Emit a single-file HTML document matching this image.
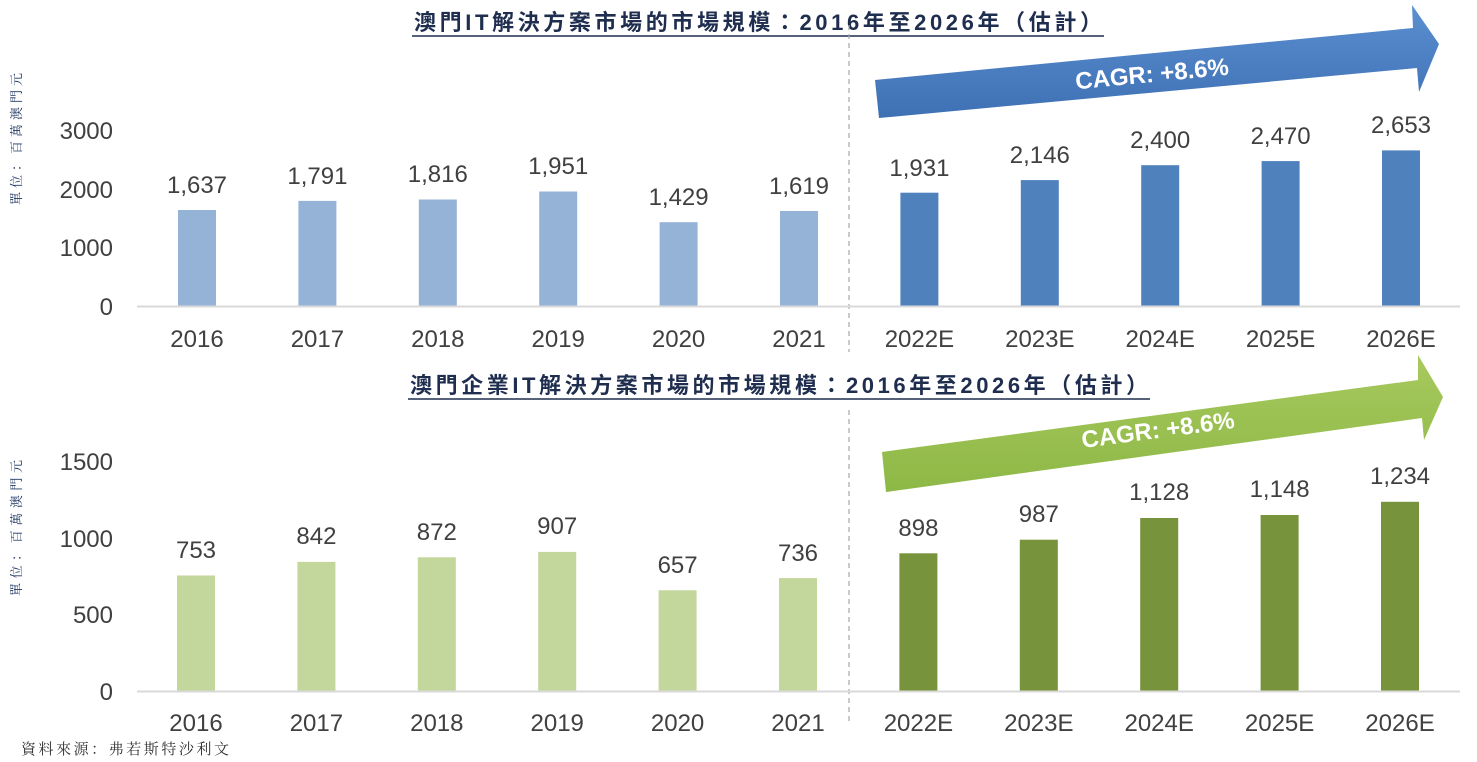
<!DOCTYPE html>
<html><head><meta charset="utf-8"><style>
html,body{margin:0;padding:0;background:#fff;}
svg{display:block;}
text{font-family:"Liberation Sans","Noto Sans CJK TC",sans-serif;}
.t{font-family:"Liberation Sans","Noto Sans CJK TC",sans-serif;font-weight:bold;fill:#1F2D4E;font-size:22px;}
.v{font-size:24px;fill:#404040;text-anchor:middle;}
.y{font-size:24px;fill:#404040;text-anchor:end;}
.c{font-size:24px;fill:#404040;text-anchor:middle;}
.u{font-family:"Liberation Serif","Noto Serif CJK SC",serif;font-size:13px;fill:#1F3864;}
</style></head><body>
<svg width="1477" height="762" viewBox="0 0 1477 762" xmlns="http://www.w3.org/2000/svg">
<defs>
<linearGradient id="gb" x1="0" y1="0" x2="0" y2="1"><stop offset="0" stop-color="#5B8FD0"/><stop offset="1" stop-color="#3E70B4"/></linearGradient>
<linearGradient id="gg" x1="0" y1="0" x2="0" y2="1"><stop offset="0" stop-color="#A8C95E"/><stop offset="1" stop-color="#8DB846"/></linearGradient>
</defs>
<!-- titles -->
<text class="t" x="414" y="30" textLength="688" lengthAdjust="spacing">澳門IT解決方案市場的市場規模：2016年至2026年（估計）</text>
<line x1="412" y1="36" x2="1104" y2="36" stroke="#1F2D4E" stroke-width="1.5"/>
<text class="t" x="410" y="393" textLength="738" lengthAdjust="spacing">澳門企業IT解決方案市場的市場規模：2016年至2026年（估計）</text>
<line x1="408" y1="399" x2="1150" y2="399" stroke="#1F2D4E" stroke-width="1.5"/>
<!-- dashed dividers -->
<line x1="849" y1="25" x2="849" y2="352" stroke="#A6A6A6" stroke-width="1.2" stroke-dasharray="5,4"/>
<line x1="849" y1="410" x2="849" y2="722" stroke="#A6A6A6" stroke-width="1.2" stroke-dasharray="5,4"/>
<!-- arrows -->
<polygon points="875,80 1413,28 1412,5 1439,44 1419,92 1417,68 879,118" fill="url(#gb)"/>
<text x="1152" y="82" font-size="24" font-weight="bold" fill="#fff" text-anchor="middle" transform="rotate(-5.5 1152 74)">CAGR: +8.6%</text>
<polygon points="882,452 1418,380 1418,355 1443,397 1424,440 1422,418 886,492" fill="url(#gg)"/>
<text x="1158" y="438" font-size="24" font-weight="bold" fill="#fff" text-anchor="middle" transform="rotate(-7.5 1158 430)">CAGR: +8.6%</text>
<!-- unit labels -->
<text class="u" transform="translate(21,205) rotate(-90)" textLength="132" lengthAdjust="spacing">單位：百萬澳門元</text>
<text class="u" transform="translate(21,596) rotate(-90)" textLength="136" lengthAdjust="spacing">單位：百萬澳門元</text>
<!-- TOP CHART -->
<text class="y" x="113" y="139">3000</text>
<text class="y" x="113" y="198">2000</text>
<text class="y" x="113" y="256">1000</text>
<text class="y" x="113" y="315">0</text>
<g fill="#95B3D7">
<rect x="178" y="210" width="38" height="96"/>
<rect x="298.4" y="200.9" width="38" height="105.1"/>
<rect x="418.8" y="199.5" width="38" height="106.5"/>
<rect x="539.2" y="191.5" width="38" height="114.5"/>
<rect x="659.6" y="222.2" width="38" height="83.8"/>
<rect x="780" y="211" width="38" height="95"/>
</g>
<g fill="#4F81BD">
<rect x="900.4" y="192.7" width="38" height="113.3"/>
<rect x="1020.8" y="180.1" width="38" height="125.9"/>
<rect x="1141.2" y="165.2" width="38" height="140.8"/>
<rect x="1261.6" y="161.1" width="38" height="144.9"/>
<rect x="1382" y="150.4" width="38" height="155.6"/>
</g>
<line x1="137" y1="306.5" x2="1460" y2="306.5" stroke="#D9D9D9" stroke-width="2"/>
<text class="v" x="197" y="193">1,637</text>
<text class="v" x="317.4" y="184">1,791</text>
<text class="v" x="437.8" y="182">1,816</text>
<text class="v" x="558.2" y="174">1,951</text>
<text class="v" x="678.6" y="205">1,429</text>
<text class="v" x="799" y="194">1,619</text>
<text class="v" x="919.4" y="176">1,931</text>
<text class="v" x="1039.8" y="163">2,146</text>
<text class="v" x="1160.2" y="148">2,400</text>
<text class="v" x="1280.6" y="144">2,470</text>
<text class="v" x="1401" y="133" fill="#000">2,653</text>
<text class="c" x="197" y="347">2016</text>
<text class="c" x="317.4" y="347">2017</text>
<text class="c" x="437.8" y="347">2018</text>
<text class="c" x="558.2" y="347">2019</text>
<text class="c" x="678.6" y="347">2020</text>
<text class="c" x="799" y="347">2021</text>
<text class="c" x="919.4" y="347">2022E</text>
<text class="c" x="1039.8" y="347">2023E</text>
<text class="c" x="1160.2" y="347">2024E</text>
<text class="c" x="1280.6" y="347">2025E</text>
<text class="c" x="1401" y="347">2026E</text>
<!-- BOTTOM CHART -->
<text class="y" x="113" y="470">1500</text>
<text class="y" x="113" y="547">1000</text>
<text class="y" x="113" y="623">500</text>
<text class="y" x="113" y="700">0</text>
<g fill="#C3D69B">
<rect x="177" y="575.5" width="38" height="115.5"/>
<rect x="297.4" y="561.9" width="38" height="129.1"/>
<rect x="417.8" y="557.3" width="38" height="133.7"/>
<rect x="538.2" y="551.9" width="38" height="139.1"/>
<rect x="658.6" y="590.3" width="38" height="100.7"/>
<rect x="779" y="578.1" width="38" height="112.9"/>
</g>
<g fill="#77933C">
<rect x="899.4" y="553.3" width="38" height="137.7"/>
<rect x="1019.8" y="539.7" width="38" height="151.3"/>
<rect x="1140.2" y="518" width="38" height="173"/>
<rect x="1260.6" y="515" width="38" height="176"/>
<rect x="1381" y="501.8" width="38" height="189.2"/>
</g>
<line x1="137" y1="691.5" x2="1460" y2="691.5" stroke="#D9D9D9" stroke-width="2"/>
<text class="v" x="196" y="558">753</text>
<text class="v" x="316.4" y="544">842</text>
<text class="v" x="436.8" y="540">872</text>
<text class="v" x="557.2" y="534">907</text>
<text class="v" x="677.6" y="573">657</text>
<text class="v" x="798" y="561">736</text>
<text class="v" x="918.4" y="536">898</text>
<text class="v" x="1038.8" y="522">987</text>
<text class="v" x="1159.2" y="500">1,128</text>
<text class="v" x="1279.6" y="497">1,148</text>
<text class="v" x="1400" y="484">1,234</text>
<text class="c" x="196" y="731">2016</text>
<text class="c" x="316.4" y="731">2017</text>
<text class="c" x="436.8" y="731">2018</text>
<text class="c" x="557.2" y="731">2019</text>
<text class="c" x="677.6" y="731">2020</text>
<text class="c" x="798" y="731">2021</text>
<text class="c" x="918.4" y="731">2022E</text>
<text class="c" x="1038.8" y="731">2023E</text>
<text class="c" x="1159.2" y="731">2024E</text>
<text class="c" x="1279.6" y="731">2025E</text>
<text class="c" x="1400" y="731">2026E</text>
<text x="21" y="754" font-size="15" fill="#333" textLength="208" lengthAdjust="spacing" style="font-family:'Liberation Serif','Noto Serif CJK SC',serif">資料來源：弗若斯特沙利文</text>
</svg>
</body></html>
